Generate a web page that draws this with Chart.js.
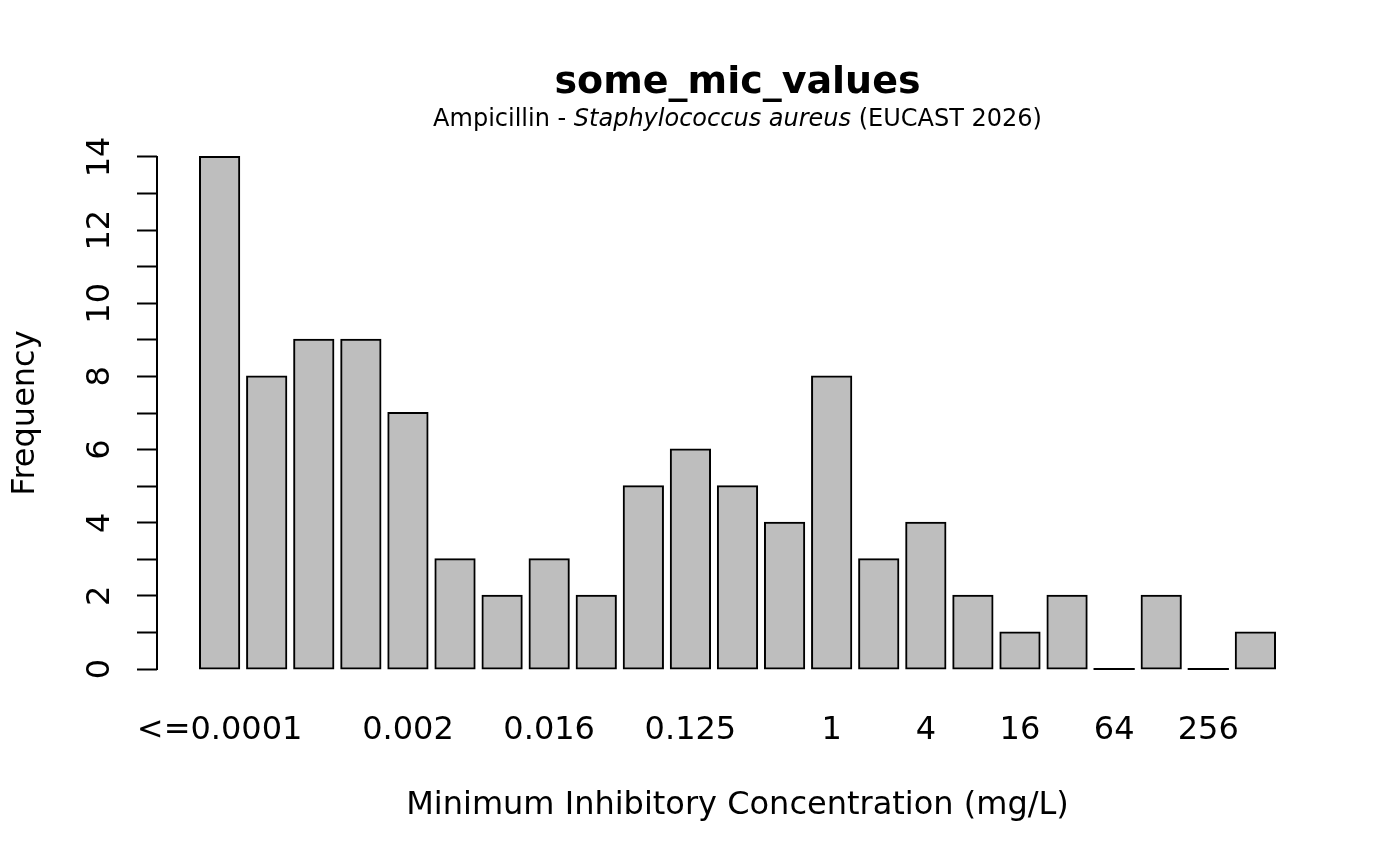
<!DOCTYPE html>
<html>
<head>
<meta charset="utf-8">
<title>some_mic_values</title>
<script src="https://cdn.jsdelivr.net/npm/chart.js@4.4.1/dist/chart.umd.min.js"></script>
<style>
  html, body { margin: 0; padding: 0; background: #fff; }
  #wrap { width: 1400px; height: 866px; position: relative; }
</style>
</head>
<body>
<div id="wrap"><canvas id="micChart"></canvas></div>
<script>
// MIC classes (x axis) and counts per class
const micLabels = ["<=0.0001", "0.0002", "0.0005", "0.001", "0.002", "0.004", "0.008", "0.016",
  "0.032", "0.064", "0.125", "0.25", "0.5", "1", "2", "4", "8", "16", "32", "64", "128", "256", "512"];
const micCounts = [14, 8, 9, 9, 7, 3, 2, 3, 2, 5, 6, 5, 4, 8, 3, 4, 2, 1, 2, 0, 2, 0, 1];

// labels that are actually printed under the bars (the others overlap and are dropped)
const shownLabels = ["<=0.0001", "0.002", "0.016", "0.125", "1", "4", "16", "64", "256"];

// y axis: a tick at every count, a label on the even ones
const yTicks = [0, 1, 2, 3, 4, 5, 6, 7, 8, 9, 10, 11, 12, 13, 14];
const yLabels = [0, 2, 4, 6, 8, 10, 12, 14];

const titleText = "some_mic_values";
const subtitleParts = [
  ["Ampicillin - ", "normal"],
  ["Staphylococcus aureus", "italic"],
  [" (EUCAST 2026)", "normal"]
];
const xTitle = "Minimum Inhibitory Concentration (mg/L)";
const yTitle = "Frequency";

const FONT = "'DejaVu Sans', 'Liberation Sans', sans-serif";
Chart.defaults.font.family = FONT;
Chart.defaults.color = "#000";

// axis line between first and last tick + mixed-style subtitle
const extras = {
  id: "extras",
  afterDraw(chart) {
    const ctx = chart.ctx;
    const ys = chart.scales.y;
    ctx.save();
    ctx.strokeStyle = "#000";
    ctx.lineWidth = 2;
    ctx.beginPath();
    ctx.moveTo(ys.right, ys.getPixelForValue(yTicks[0]) + 1);
    ctx.lineTo(ys.right, ys.getPixelForValue(yTicks[yTicks.length - 1]) - 1);
    ctx.stroke();

    const size = 24;
    const cx = (chart.chartArea.left + chart.chartArea.right) / 2;
    let total = 0;
    subtitleParts.forEach(p => {
      ctx.font = p[1] + " " + size + "px " + FONT;
      total += ctx.measureText(p[0]).width;
    });
    let x = cx - total / 2;
    ctx.fillStyle = "#000";
    ctx.textBaseline = "alphabetic";
    ctx.textAlign = "left";
    subtitleParts.forEach(p => {
      ctx.font = p[1] + " " + size + "px " + FONT;
      ctx.fillText(p[0], x, 126);
      x += ctx.measureText(p[0]).width;
    });
    ctx.restore();
  }
};

const isEmpty = c => c.raw && c.raw.y === 0;

new Chart(document.getElementById("micChart"), {
  type: "bar",
  data: {
    datasets: [{
      label: "Frequency",
      data: micCounts.map((v, i) => ({ x: i, y: v })),
      // empty classes show up as a flat black line on the baseline
      backgroundColor: c => isEmpty(c) ? "#000" : "#bebebe",
      borderColor: "#000",
      borderWidth: c => isEmpty(c) ? 0 : 2,
      borderSkipped: false,
      inflateAmount: 1,
      categoryPercentage: 1,
      barPercentage: 1 / 1.2
    }]
  },
  options: {
    responsive: true,
    maintainAspectRatio: false,
    animation: false,
    layout: { padding: { left: 0, right: 82, top: 0, bottom: 0 } },
    plugins: {
      legend: { display: false },
      tooltip: { enabled: false },
      title: {
        display: true,
        text: titleText,
        fullSize: false,
        font: { size: 38, weight: "bold" },
        padding: { top: 60, bottom: 30.9 }
      }
    },
    scales: {
      x: {
        type: "linear",
        offset: false,
        min: -1.33,
        max: 23.33,
        afterBuildTicks: s => { s.ticks = micLabels.map((_, i) => ({ value: i })); },
        afterFit: s => { s.height = 176.5; s.paddingLeft = 0; s.paddingRight = 0; },
        grid: { display: false, drawTicks: false, offset: false },
        border: { display: false },
        ticks: {
          autoSkip: false,
          maxRotation: 0,
          padding: 22,
          font: { size: 32 },
          callback: v => shownLabels.includes(micLabels[v]) ? micLabels[v] : ""
        },
        title: {
          display: true,
          text: xTitle,
          font: { size: 32 },
          padding: { top: 0, bottom: 41 }
        }
      },
      y: {
        min: -0.56,
        max: 14.56,
        afterBuildTicks: s => { s.ticks = yTicks.map(v => ({ value: v })); },
        afterFit: s => { s.width = 157; s.paddingTop = 0; s.paddingBottom = 0; },
        grid: { drawOnChartArea: false, drawTicks: true, tickLength: 20, tickWidth: 2, tickColor: "#000" },
        border: { display: false },
        ticks: {
          autoSkip: false,
          minRotation: 90,
          maxRotation: 90,
          crossAlign: "center",
          padding: 16,
          font: { size: 32 },
          callback: v => yLabels.includes(v) ? String(v) : ""
        },
        title: {
          display: true,
          text: yTitle,
          font: { size: 32 },
          padding: { top: 6, bottom: 0 }
        }
      }
    }
  },
  plugins: [extras]
});
</script>
</body>
</html>
